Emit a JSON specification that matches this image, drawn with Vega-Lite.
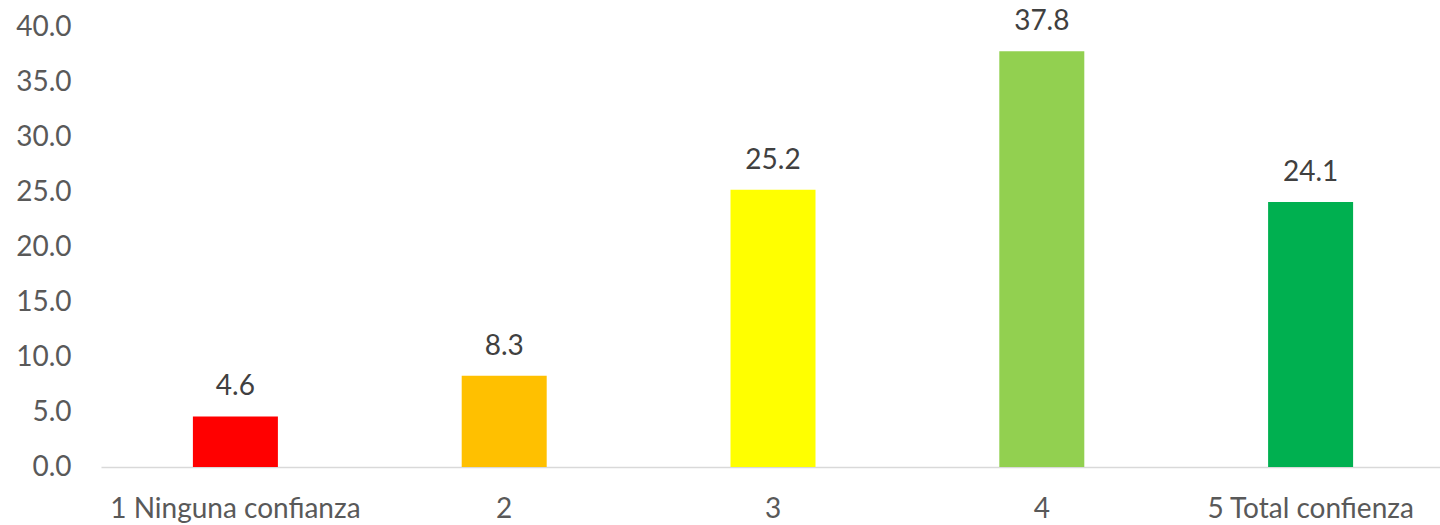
{
  "$schema": "https://vega.github.io/schema/vega-lite/v6.json",
  "autosize": {"type": "none"},
  "width": 1344,
  "height": 440,
  "padding": {"left": 101, "top": 27, "right": 0, "bottom": 58},
  "background": "white",
  "config": {"view": {"stroke": null}, "font": "Lato"},
  "data": {"values": [
    {"cat": "1 Ninguna confianza", "value": 4.6, "color": "#FF0000"},
    {"cat": "2", "value": 8.3, "color": "#FFC000"},
    {"cat": "3", "value": 25.2, "color": "#FFFF00"},
    {"cat": "4", "value": 37.8, "color": "#92D050"},
    {"cat": "5 Total confienza", "value": 24.1, "color": "#00B050"}
  ]},
  "encoding": {
    "x": {"field": "cat", "type": "nominal", "sort": null,
      "scale": {"paddingInner": 0, "paddingOuter": 0},
      "axis": {"title": null, "labelAngle": 0, "ticks": false, "domainColor": "#D9D9D9", "domainWidth": 1.5,
        "labelFontSize": 28, "labelColor": "#595959", "labelPadding": 28, "labelLimit": 0, "labelFont": "Lato"}},
    "y": {"field": "value", "type": "quantitative",
      "scale": {"domain": [0, 40], "nice": false},
      "axis": {"title": null, "values": [0,5,10,15,20,25,30,35,40], "format": ".1f", "grid": false, "domain": false, "ticks": false,
        "labelFontSize": 28, "labelColor": "#595959", "labelPadding": 30, "labelFont": "Lato"}}
  },
  "layer": [
    {"mark": {"type": "bar", "size": 85},
     "encoding": {"color": {"field": "color", "type": "nominal", "scale": null}}},
    {"mark": {"type": "text", "baseline": "bottom", "dy": -15, "fontSize": 28, "color": "#404040", "font": "Lato"},
     "encoding": {"text": {"field": "value", "type": "quantitative", "format": ".1f"}}}
  ]
}
